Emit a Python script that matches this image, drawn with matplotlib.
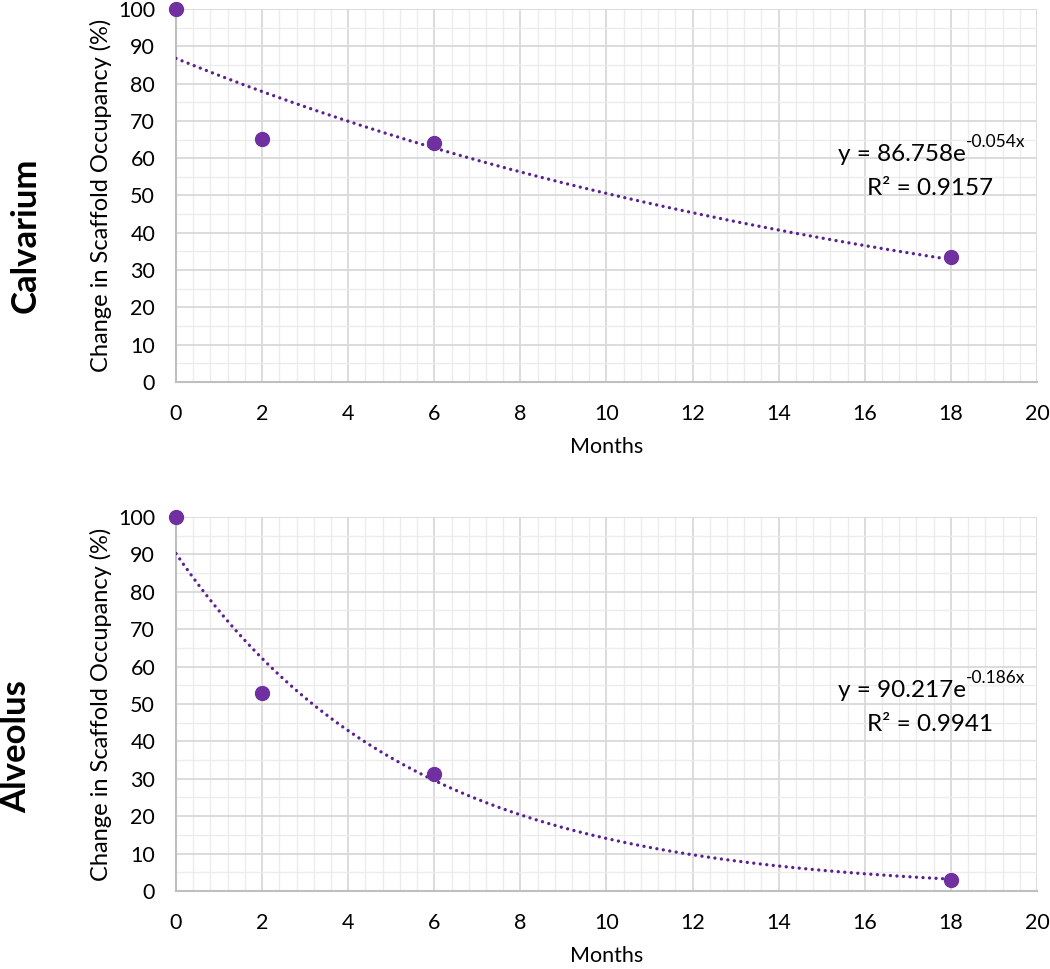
import matplotlib
matplotlib.use('Agg')
import matplotlib.pyplot as plt
import numpy as np
from matplotlib.ticker import MultipleLocator

plt.rcParams['font.family'] = ['Lato', 'DejaVu Sans']

# data
months = [0, 2, 6, 18]
calvarium = [100, 65.2, 64.2, 33.5]
alveolus = [100, 53.0, 31.3, 3.0]
# exponential trendline coefficients (y = a*exp(b*x)) as printed on the chart
calv_fit = (86.758, -0.054, 0.9157)
alv_fit = (90.217, -0.186, 0.9941)
panel_names = ['Calvarium', 'Alveolus']

purple = '#7030a0'

fig = plt.figure(figsize=(10.5, 9.69), dpi=100)
ax1 = fig.add_axes([0.1676, 0.6058, 0.82, 0.3849])
ax2 = fig.add_axes([0.1676, 0.0805, 0.82, 0.3860])

eq_pos = [(60.9, 52.0), (53.5, 44.4)]
name_pos = [(0.024, 1 - 235 / 969.), (0.015, 1 - 747 / 969.)]

for ax, y, fit, name, (ye, yr), (nx, ny) in zip(
        [ax1, ax2], [calvarium, alveolus], [calv_fit, alv_fit],
        panel_names, eq_pos, name_pos):
    a, b, r2 = fit
    xx = np.linspace(0, months[-1], 200)
    ax.plot(xx, a * np.exp(b * xx), color='#5a2190', lw=2.4,
            linestyle=(0, (0.01, 1.95)), dash_capstyle='round', zorder=3)
    ax.plot(months, y, 'o', color=purple, ms=10, zorder=4, clip_on=False)

    ax.set_xlim(0, 20)
    ax.set_ylim(0, 100)
    ax.xaxis.set_major_locator(MultipleLocator(2))
    ax.xaxis.set_minor_locator(MultipleLocator(0.4))
    ax.yaxis.set_major_locator(MultipleLocator(10))
    ax.yaxis.set_minor_locator(MultipleLocator(5))
    ax.grid(which='major', color='#d9d9d9', lw=1.3)
    ax.grid(which='minor', color='#ececec', lw=1.0)
    ax.set_axisbelow(True)
    ax.tick_params(which='both', length=0, labelsize=15.5, colors='black')
    ax.tick_params(axis='y', pad=15)
    ax.tick_params(axis='x', pad=16)
    for s in ['top', 'right']:
        ax.spines[s].set_visible(False)
    for s in ['left', 'bottom']:
        ax.spines[s].set_color('#bfbfbf')
        ax.spines[s].set_linewidth(1.5)

    ax.set_xlabel('Months', fontsize=15.5, labelpad=9)
    ax.set_ylabel('Change in Scaffold Occupancy (%)', fontsize=17, labelpad=4)

    t = ax.text(15.38, ye, 'y = %.3fe' % a, fontsize=17.5,
                ha='left', va='center')
    ax.annotate('%.3fx' % b, xy=(1.0, 0.75), xycoords=t, fontsize=12.5,
                ha='left', va='bottom')
    ax.text(17.51, yr, 'R² = %.4f' % r2, fontsize=17.5,
            ha='center', va='center')

    fig.text(nx, ny, name, rotation=90, fontsize=25, fontweight='bold',
             ha='center', va='center')

fig.savefig('out.png', dpi=100, facecolor='white')
